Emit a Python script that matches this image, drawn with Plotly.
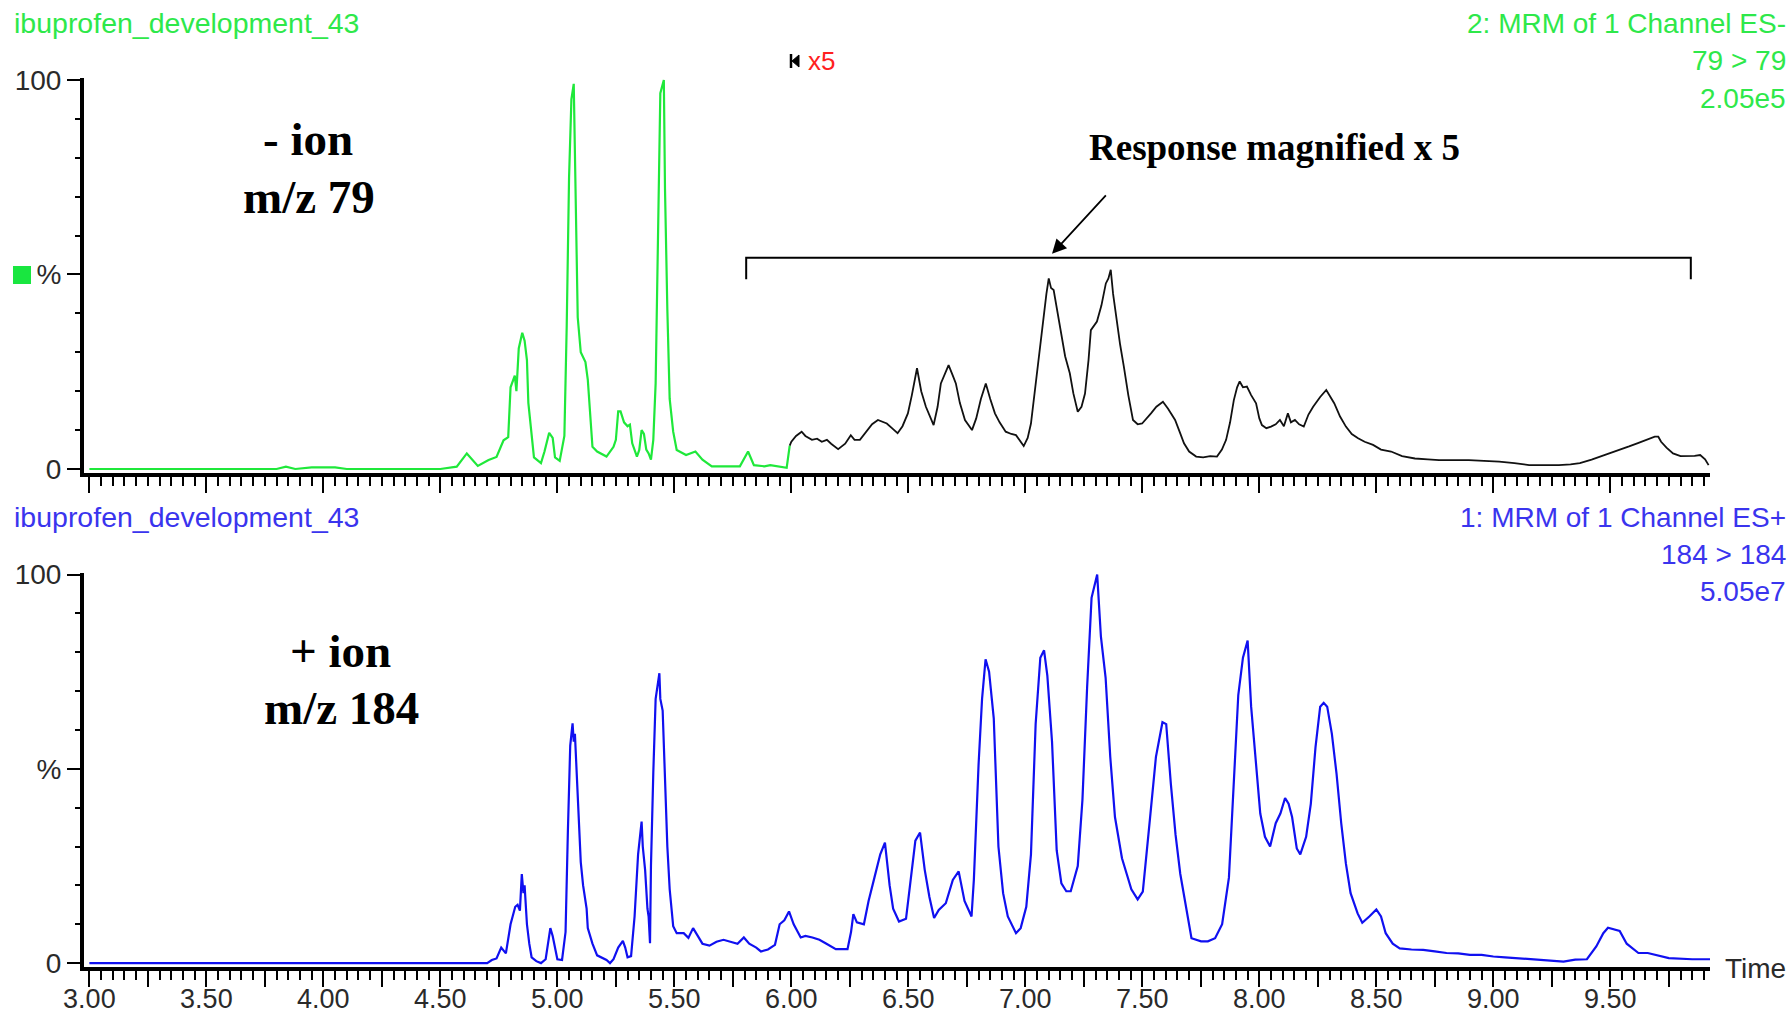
import plotly.graph_objects as go

# ---------------- data ----------------
# top trace (ES- m/z 79), full-scale part (green)
neg_time = [3.00, 3.80, 3.84, 3.88, 3.95, 4.00, 4.05, 4.10, 4.50, 4.57, 4.613, 4.66, 4.706, 4.74, 4.77,
            4.79, 4.80, 4.818, 4.825, 4.835, 4.85, 4.86, 4.87, 4.876, 4.89, 4.90, 4.93, 4.945, 4.965,
            4.98, 4.99, 5.01, 5.03, 5.04, 5.05, 5.06, 5.07, 5.08, 5.087, 5.10, 5.12, 5.13, 5.14, 5.15,
            5.17, 5.21, 5.24, 5.25, 5.26, 5.27, 5.285, 5.30, 5.31, 5.32, 5.34, 5.35, 5.36, 5.37, 5.38,
            5.39, 5.40, 5.41, 5.42, 5.43, 5.44, 5.455, 5.46, 5.47, 5.48, 5.495, 5.51, 5.55, 5.59, 5.62,
            5.66, 5.78, 5.815, 5.84, 5.885, 5.91, 5.95, 5.98, 5.993]
neg_resp = [0, 0, 0.6, 0, 0.4, 0.4, 0.4, 0, 0, 0.6, 4.0, 0.8, 2.3, 3.1, 7.4,
            8.2, 21, 24, 20, 31, 35, 33, 28, 17, 9.6, 3, 1.5, 4.5, 9.3,
            8, 3, 2.1, 8.5, 36.8, 75, 95, 99, 60, 39, 30, 27.5, 23, 15, 5.7,
            4.5, 3.2, 5.7, 7.5, 14.8, 14.8, 12, 11, 11.4, 6.6, 3.2, 4.9, 10, 9, 5,
            4, 2.4, 7.5, 22, 64, 96.6, 100, 72, 41, 18, 9.6, 4.9, 3.6, 4.5, 2.4,
            0.7, 0.7, 4.5, 1.0, 0.7, 1.0, 0.5, 0.3, 6.0]

# top trace, magnified x5 part (black)
neg_x5_time = [5.993, 6.00, 6.02, 6.044, 6.06, 6.088, 6.11, 6.13, 6.152, 6.17, 6.20, 6.23, 6.254, 6.27,
               6.293, 6.32, 6.345, 6.37, 6.408, 6.43, 6.454, 6.475, 6.498, 6.515, 6.537, 6.555, 6.575,
               6.608, 6.625, 6.639, 6.655, 6.672, 6.69, 6.703, 6.72, 6.742, 6.772, 6.79, 6.81, 6.831,
               6.85, 6.87, 6.89, 6.916, 6.94, 6.96, 6.993, 7.01, 7.024, 7.04, 7.055, 7.075, 7.09, 7.10,
               7.11, 7.121, 7.135, 7.152, 7.17, 7.19, 7.205, 7.224, 7.24, 7.255, 7.27, 7.28, 7.295,
               7.306, 7.325, 7.344, 7.355, 7.365, 7.375, 7.388, 7.405, 7.421, 7.44, 7.46, 7.48, 7.499,
               7.52, 7.537, 7.56, 7.588, 7.61, 7.64, 7.66, 7.678, 7.70, 7.73, 7.76, 7.79, 7.819, 7.84,
               7.858, 7.875, 7.891, 7.905, 7.916, 7.93, 7.947, 7.965, 7.986, 8.00, 8.011, 8.03, 8.05,
               8.07, 8.088, 8.105, 8.122, 8.135, 8.152, 8.17, 8.19, 8.21, 8.23, 8.26, 8.286, 8.30, 8.32,
               8.345, 8.37, 8.395, 8.422, 8.45, 8.486, 8.52, 8.563, 8.61, 8.665, 8.72, 8.768, 8.83,
               8.896, 8.96, 9.025, 9.09, 9.153, 9.22, 9.28, 9.33, 9.37, 9.42, 9.46, 9.50, 9.537, 9.58,
               9.615, 9.65, 9.69, 9.705, 9.717, 9.74, 9.768, 9.80, 9.82, 9.86, 9.884, 9.905, 9.92]
neg_x5_resp = [6.0, 7.0, 8.5, 9.6, 8.5, 7.5, 7.8, 7.0, 7.5, 6.5, 5.1, 6.5, 8.7, 7.5,
               7.5, 9.5, 11.5, 12.6, 11.7, 10.5, 9.2, 11, 14.3, 19, 25.9, 20, 16,
               11.3, 16, 22, 24.5, 26.7, 24, 22, 17, 12.6, 10, 13, 18, 22,
               18, 14.3, 12, 9.6, 9.0, 8.7, 5.9, 8, 11.7, 20, 26.3, 37.4, 45, 49,
               46.5, 46, 41, 34.9, 29, 24.6, 19.5, 14.7, 16, 19.4, 28, 35.7, 37,
               37.9, 42, 47.7, 49, 51.2, 45, 39.2, 32, 26.3, 19, 12.6, 11.5, 11.7,
               13, 14.3, 16, 17.3, 15.5, 12.6, 9.5, 6.6, 4.5, 3.2, 3.0, 3.3, 3.2, 5.0,
               7.5, 12, 17.7, 21, 22.5, 21, 21.2, 19, 16.9, 13, 11.3, 10.5, 10.9,
               11.5, 12.6, 11, 14.3, 12, 12.6, 11.5, 10.9, 14, 16, 18.5, 20.3, 19, 16.9,
               13.5, 10.9, 9, 7.9, 7.0, 6.2, 5.0, 4.5, 3.3, 2.7, 2.5, 2.3, 2.3,
               2.3, 2.1, 1.9, 1.5, 1.0, 1.0, 1.0, 1.2, 1.5, 2.4, 3.2, 4.0, 4.9, 5.8,
               6.6, 7.4, 8.3, 8.3, 7.0, 5.5, 4.0, 3.3, 3.3, 3.4, 3.6, 2.5, 1.0]

# bottom trace (ES+ m/z 184)
pos_time = [3.00, 4.70, 4.72, 4.74, 4.76, 4.78, 4.80, 4.82, 4.83, 4.84, 4.848, 4.855, 4.86, 4.87, 4.88,
            4.89, 4.91, 4.93, 4.95, 4.97, 4.98, 4.99, 5.00, 5.02, 5.035, 5.045, 5.055, 5.065, 5.07,
            5.075, 5.08, 5.09, 5.10, 5.11, 5.125, 5.13, 5.15, 5.17, 5.19, 5.21, 5.225, 5.24, 5.26,
            5.28, 5.29, 5.30, 5.315, 5.33, 5.345, 5.36, 5.365, 5.375, 5.385, 5.39, 5.396, 5.40, 5.41,
            5.42, 5.436, 5.44, 5.45, 5.46, 5.47, 5.48, 5.495, 5.51, 5.54, 5.56, 5.58, 5.60, 5.62,
            5.65, 5.68, 5.71, 5.74, 5.77, 5.797, 5.82, 5.85, 5.87, 5.90, 5.93, 5.95, 5.97, 5.99,
            6.01, 6.04, 6.06, 6.09, 6.12, 6.15, 6.19, 6.24, 6.255, 6.265, 6.28, 6.31, 6.33, 6.355,
            6.38, 6.40, 6.42, 6.435, 6.46, 6.49, 6.51, 6.53, 6.55, 6.57, 6.59, 6.61, 6.63, 6.66,
            6.69, 6.715, 6.74, 6.77, 6.78, 6.80, 6.815, 6.83, 6.845, 6.865, 6.885, 6.905, 6.925,
            6.96, 6.98, 7.004, 7.024, 7.044, 7.064, 7.08, 7.094, 7.114, 7.134, 7.154, 7.175, 7.194,
            7.224, 7.244, 7.264, 7.283, 7.307, 7.323, 7.343, 7.363, 7.383, 7.413, 7.433, 7.453,
            7.48, 7.502, 7.532, 7.558, 7.586, 7.602, 7.622, 7.642, 7.662, 7.682, 7.71, 7.751, 7.78,
            7.811, 7.841, 7.87, 7.89, 7.91, 7.93, 7.95, 7.965, 7.984, 8.004, 8.024, 8.046, 8.07,
            8.09, 8.11, 8.125, 8.14, 8.16, 8.175, 8.20, 8.22, 8.24, 8.26, 8.275, 8.29, 8.31, 8.33,
            8.35, 8.37, 8.39, 8.42, 8.44, 8.47, 8.50, 8.52, 8.54, 8.57, 8.60, 8.65, 8.70, 8.75,
            8.80, 8.85, 8.90, 8.95, 9.00, 9.05, 9.10, 9.20, 9.30, 9.35, 9.40, 9.44, 9.47, 9.49,
            9.52, 9.54, 9.57, 9.62, 9.66, 9.70, 9.75, 9.85, 9.93]
pos_resp = [0, 0, 0.8, 1.2, 4, 2.5, 10, 14.5, 15, 13.5, 22.9, 18, 20, 10, 5,
            1.5, 0.5, 0, 1, 9, 7, 4, 1, 0.8, 8, 34, 56, 61.7, 57,
            59, 52, 36, 26, 20, 14, 9, 5, 2, 1.5, 0.8, 0, 1, 4,
            5.7, 4, 1.5, 1.8, 12, 28, 36.4, 30, 24, 14, 12, 5.1, 25, 49,
            68, 74.6, 68, 65, 48, 30, 19, 9.5, 7.7, 7.7, 6.5, 9, 7, 5,
            4.5, 5.5, 6, 5.5, 5.0, 6.6, 5, 4, 3, 3.5, 4.7, 10, 11, 13.3,
            10, 6.6, 7, 6.6, 6, 5, 3.6, 3.6, 8, 12.6, 10.5, 10, 16, 22,
            28, 31, 20, 14, 10.7, 11.4, 21, 31.5, 33.6, 24, 17, 11.6, 13.7, 15.4,
            21.4, 23.6, 16, 12, 21.5, 51, 68, 78.2, 75, 63, 30, 18, 12,
            7.7, 9, 14.5, 28, 61.5, 78.6, 80.5, 74, 57, 29, 20.5, 18.5, 18.5,
            25, 42, 71, 94, 100, 84, 73.5, 53, 37.6, 27, 23, 19,
            16.4, 18.4, 36.8, 53, 62, 61.5, 46, 33, 23, 16, 6.4, 5.6, 5.6,
            6.4, 10, 22, 45, 69, 78.6, 83, 66, 52, 38.5, 32.5, 30, 36,
            38.5, 42.5, 41, 37.6, 29.5, 28, 32.5, 41, 55.5, 66, 67, 66, 59, 48.7,
            36, 25.6, 18, 12.8, 10.4, 12, 13.8, 12, 7.7, 5, 3.8, 3.5, 3.4, 3.0,
            2.6, 2.5, 2.1, 2.1, 1.7, 1.5, 1.3, 0.9, 0.4, 0.9, 1, 4.3, 7.7, 9.1,
            8.5, 8.3, 5, 2.6, 2.6, 2.1, 1.3, 1.0, 1.0]

# axis labels
x_tick_values = [3.00 + 0.25 * i for i in range(28)]
x_tick_labels = [f"{v:.2f}" if i % 2 == 0 else "" for i, v in enumerate(x_tick_values)]
y_tick_values = [0, 50, 100]
y_tick_labels = ["0", "%", "100"]

neg_title = "ibuprofen_development_43"
neg_info = ["2: MRM of 1 Channel ES-", "79 > 79", "2.05e5"]
pos_title = "ibuprofen_development_43"
pos_info = ["1: MRM of 1 Channel ES+", "184 > 184", "5.05e7"]

# ---------------- layout geometry ----------------
W, H = 1791, 1015
ML, MR, MT, MB = 84, 81, 78, 48
PW, PH = W - ML - MR, H - MT - MB


def px(x, y):
    return (x - ML) / PW, 1 - (y - MT) / PH


GREEN = "#1fe83a"
GREEN_TXT = "#2ee84a"
BLUE = "#1010f0"
BLUE_TXT = "#3a34ee"
SANS = "Liberation Sans, Arial, sans-serif"
SERIF = "Liberation Serif, Times New Roman, serif"

fig = go.Figure()
fig.add_trace(go.Scatter(x=neg_time, y=neg_resp, mode="lines", line=dict(color=GREEN, width=2.2),
                         xaxis="x", yaxis="y", showlegend=False, hoverinfo="skip"))
fig.add_trace(go.Scatter(x=neg_x5_time, y=neg_x5_resp, mode="lines", line=dict(color="#111111", width=1.8),
                         xaxis="x", yaxis="y", showlegend=False, hoverinfo="skip"))
fig.add_trace(go.Scatter(x=pos_time, y=pos_resp, mode="lines", line=dict(color=BLUE, width=2.2),
                         xaxis="x2", yaxis="y2", showlegend=False, hoverinfo="skip"))

xr = [2.977, 9.926]
xcommon = dict(range=xr, showgrid=False, zeroline=False, showline=True, linecolor="black", linewidth=4,
               ticks="outside", ticklen=16, tickwidth=2, tickcolor="black", automargin=False,
               tickmode="array", tickvals=x_tick_values, ticktext=x_tick_labels,
               ticklabelstandoff=-11,
               minor=dict(ticks="outside", ticklen=9, tickwidth=1.6, tickcolor="black", tick0=3.0, dtick=0.05),
               tickfont=dict(family=SANS, size=27, color="#2a2a2a"), fixedrange=True)
ycommon = dict(range=[-1, 100.5], showgrid=False, zeroline=False, showline=True, linecolor="black",
               linewidth=4, ticks="outside", ticklen=13, tickwidth=2, tickcolor="black", automargin=False,
               tickmode="array", tickvals=y_tick_values, ticktext=y_tick_labels,
               minor=dict(ticks="outside", ticklen=5, tickwidth=1.6, tickcolor="black", tick0=0, dtick=10),
               tickfont=dict(family=SANS, size=28, color="#2a2a2a"), fixedrange=True)

top_lo = 1 - (472.9 - MT) / PH
bot_hi = 1 - (572.6 - MT) / PH

fig.update_layout(
    width=W, height=H,
    margin=dict(l=ML, r=MR, t=MT, b=MB, autoexpand=False),
    paper_bgcolor="white", plot_bgcolor="white",
    xaxis=dict(xcommon, anchor="y", showticklabels=False),
    yaxis=dict(ycommon, domain=[top_lo, 1], anchor="x"),
    xaxis2=dict(xcommon, anchor="y2"),
    yaxis2=dict(ycommon, domain=[0, bot_hi], anchor="x2"),
)

ann = []


def text(x, y, s, size, color, family=SANS, xanchor="center", bold=False):
    xp, yp = px(x, y)
    if bold:
        s = f"<b>{s}</b>"
    ann.append(dict(x=xp, y=yp, xref="paper", yref="paper", text=s, showarrow=False,
                    xanchor=xanchor, yanchor="middle", font=dict(family=family, size=size, color=color)))


# panel headers
text(12, 23, neg_title, 28.5, GREEN_TXT, xanchor="left")
for i, s in enumerate(neg_info):
    text(1788, 23 + 37.5 * i, s, 28, GREEN_TXT, xanchor="right")
text(12, 517, pos_title, 28.5, BLUE_TXT, xanchor="left")
for i, s in enumerate(pos_info):
    text(1788, 517 + 37 * i, s, 28, BLUE_TXT, xanchor="right")

# x5 marker
text(821, 61, "x5", 26, "#ff2020")
text(1755, 968, "Time", 28, "#2a2a2a")

# ion labels
text(308, 139, "- ion", 47, "black", family=SERIF, bold=True)
text(309, 197, "m/z 79", 47, "black", family=SERIF, bold=True)
text(340, 651, "+ ion", 47, "black", family=SERIF, bold=True)
text(341, 708, "m/z 184", 47, "black", family=SERIF, bold=True)
text(1274, 148, "Response magnified x 5", 37, "black", family=SERIF, bold=True)

# arrow to bracket
ann.append(dict(x=7.114, y=55.3, xref="x", yref="y", ax=7.35, ay=70.7, axref="x", ayref="y",
                text="", showarrow=True, arrowhead=2, arrowsize=1.6, arrowwidth=1.8, arrowcolor="black"))
fig.update_layout(annotations=ann)

shapes = []
# bracket over magnified region
shapes.append(dict(type="path", xref="x", yref="y",
                   path="M 5.807,48.8 L 5.807,54.3 L 9.844,54.3 L 9.844,48.8",
                   line=dict(color="black", width=2)))
# green channel square
x0, y0 = px(13, 266)
x1, y1 = px(31, 284)
shapes.append(dict(type="rect", xref="paper", yref="paper", x0=x0, x1=x1, y0=y1, y1=y0,
                   fillcolor="#19e640", line=dict(width=0)))
# x5 marker glyph (bar + left triangle)
a0, b0 = px(791, 54)
a1, b1 = px(791, 68)
shapes.append(dict(type="line", xref="paper", yref="paper", x0=a0, y0=b0, x1=a1, y1=b1,
                   line=dict(color="black", width=2.5)))
t1 = px(792, 61)
t2 = px(799, 55)
t3 = px(799, 67)
shapes.append(dict(type="path", xref="paper", yref="paper",
                   path=f"M {t1[0]},{t1[1]} L {t2[0]},{t2[1]} L {t3[0]},{t3[1]} Z",
                   fillcolor="black", line=dict(color="black", width=1)))
fig.update_layout(shapes=shapes)

fig.write_html("out.html", config={"displayModeBar": False},
               post_script="document.body.style.margin='0px';document.body.style.overflow='hidden';")
